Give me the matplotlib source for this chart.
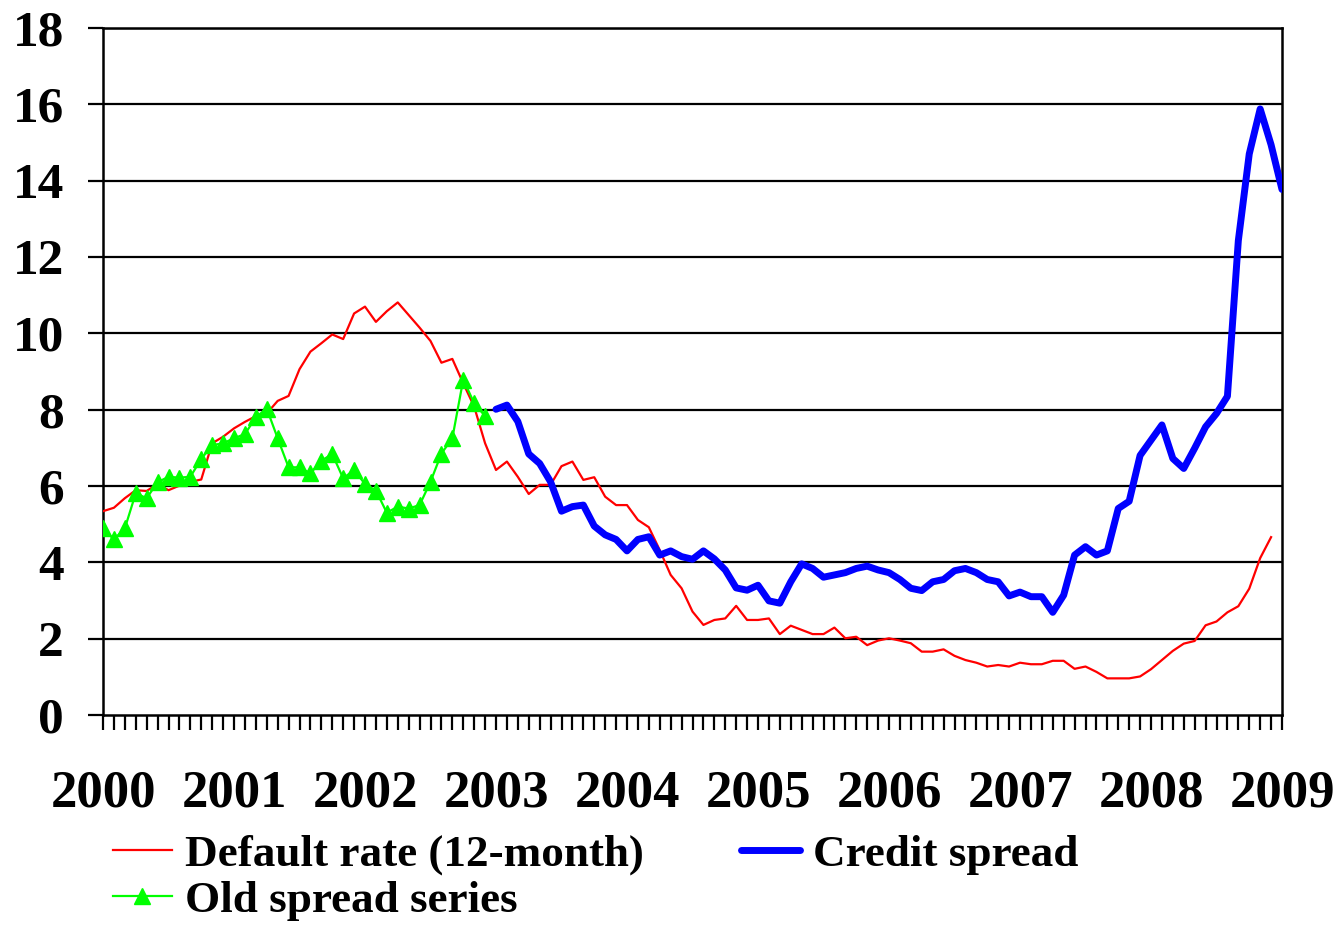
import matplotlib
matplotlib.use("Agg")
import matplotlib.pyplot as plt
import numpy as np

plt.rcParams['font.family'] = ['Liberation Serif', 'DejaVu Serif']
plt.rcParams['font.weight'] = 'bold'

# monthly values, month 0 = Jan 2000
default_rate = [
    5.34, 5.43, 5.68, 5.89, 5.87, 6.05, 5.89, 6.01, 6.11, 6.17,
    7.12, 7.29, 7.51, 7.68, 7.83, 7.90, 8.23, 8.36, 9.06, 9.52,
    9.74, 9.97, 9.85, 10.52, 10.70, 10.30, 10.58, 10.81, 10.48, 10.15,
    9.80, 9.23, 9.33, 8.69, 8.08, 7.12, 6.42, 6.64, 6.24, 5.79,
    6.03, 6.03, 6.52, 6.64, 6.16, 6.23, 5.72, 5.50, 5.50, 5.11,
    4.92, 4.32, 3.67, 3.32, 2.71, 2.36, 2.49, 2.53, 2.86, 2.49,
    2.49, 2.53, 2.12, 2.34, 2.23, 2.12, 2.12, 2.29, 2.01, 2.05,
    1.83, 1.95, 2.01, 1.95, 1.88, 1.66, 1.66, 1.72, 1.55, 1.44,
    1.37, 1.27, 1.31, 1.27, 1.37, 1.33, 1.33, 1.42, 1.42, 1.21,
    1.27, 1.13, 0.96, 0.96, 0.96, 1.01, 1.20, 1.44, 1.68, 1.87,
    1.94, 2.35, 2.45, 2.69, 2.85, 3.31, 4.11, 4.66,
]

# old spread series, Jan 2000 - Dec 2002
old_spread = [
    4.89, 4.60, 4.89, 5.81, 5.68, 6.10, 6.24, 6.22, 6.24, 6.71,
    7.07, 7.12, 7.25, 7.36, 7.80, 8.03, 7.25, 6.49, 6.49, 6.33,
    6.66, 6.84, 6.20, 6.42, 6.05, 5.88, 5.30, 5.46, 5.41, 5.50,
    6.11, 6.85, 7.25, 8.79, 8.17, 7.83,
]

# credit spread, Jan 2003 - Jan 2009
credit_spread = [
    8.01, 8.12, 7.69, 6.84, 6.59, 6.11, 5.34, 5.46, 5.50, 4.95,
    4.72, 4.60, 4.30, 4.60, 4.67, 4.19, 4.30, 4.15, 4.08, 4.30,
    4.09, 3.80, 3.33, 3.27, 3.40, 2.99, 2.93, 3.49, 3.96, 3.84,
    3.61, 3.67, 3.73, 3.84, 3.90, 3.80, 3.73, 3.55, 3.32, 3.26,
    3.49, 3.55, 3.78, 3.84, 3.73, 3.55, 3.49, 3.12, 3.22, 3.10,
    3.10, 2.69, 3.14, 4.19, 4.41, 4.19, 4.30, 5.41, 5.60, 6.80,
    7.20, 7.60, 6.72, 6.46, 6.99, 7.55, 7.90, 8.35, 12.43, 14.70,
    15.88, 14.94, 13.77,
]

years = list(range(2000, 2010))

t_default = 2000 + np.arange(len(default_rate)) / 12
t_old = 2000 + np.arange(len(old_spread)) / 12
t_credit = 2003 + np.arange(len(credit_spread)) / 12

fig = plt.figure(figsize=(13.38, 9.25), dpi=100)
ax = fig.add_axes([103 / 1338, 1 - 715 / 925, (1282 - 103) / 1338, (715 - 28) / 925])

for v in range(2, 19, 2):
    ax.axhline(v, color='black', lw=1.6, zorder=1)

ax.plot(t_default, default_rate, color='#ff0000', lw=1.6, zorder=3,
        label='Default rate (12-month)')
ax.plot(t_old, old_spread, color='#00ff00', lw=1.6, marker='^', ms=12,
        markeredgecolor='#00ff00', zorder=4, label='Old spread series')
ax.plot(t_credit, credit_spread, color='#0000ff', lw=5, zorder=5,
        solid_capstyle='round', label='Credit spread')

ax.set_xlim(2000, 2009)
ax.set_ylim(0, 18)
ax.set_yticks(range(0, 19, 2))
ax.set_xticks(years)
ax.set_xticks(2000 + np.arange(109) / 12, minor=True)

for s in ax.spines.values():
    s.set_linewidth(1.8)
    s.set_color('black')

ax.tick_params(axis='y', direction='out', length=11, width=1.6, pad=17,
               labelsize=37)
ax.tick_params(axis='x', which='both', direction='out', length=11, width=1.6,
               pad=28, labelsize=38)
for lbl in ax.get_xticklabels() + ax.get_yticklabels():
    lbl.set_fontweight('bold')

h, l = ax.get_legend_handles_labels()
fig.legend(h, l, loc='upper left', bbox_to_anchor=(113 / 1338, 1 - 834 / 925),
           ncol=2, frameon=False, handlelength=1.3,
           handletextpad=0.3, columnspacing=2.15, labelspacing=0.12,
           borderpad=0, borderaxespad=0, prop={'weight': 'bold', 'size': 32.5})

fig.savefig('out.png', dpi=100, facecolor='white')
